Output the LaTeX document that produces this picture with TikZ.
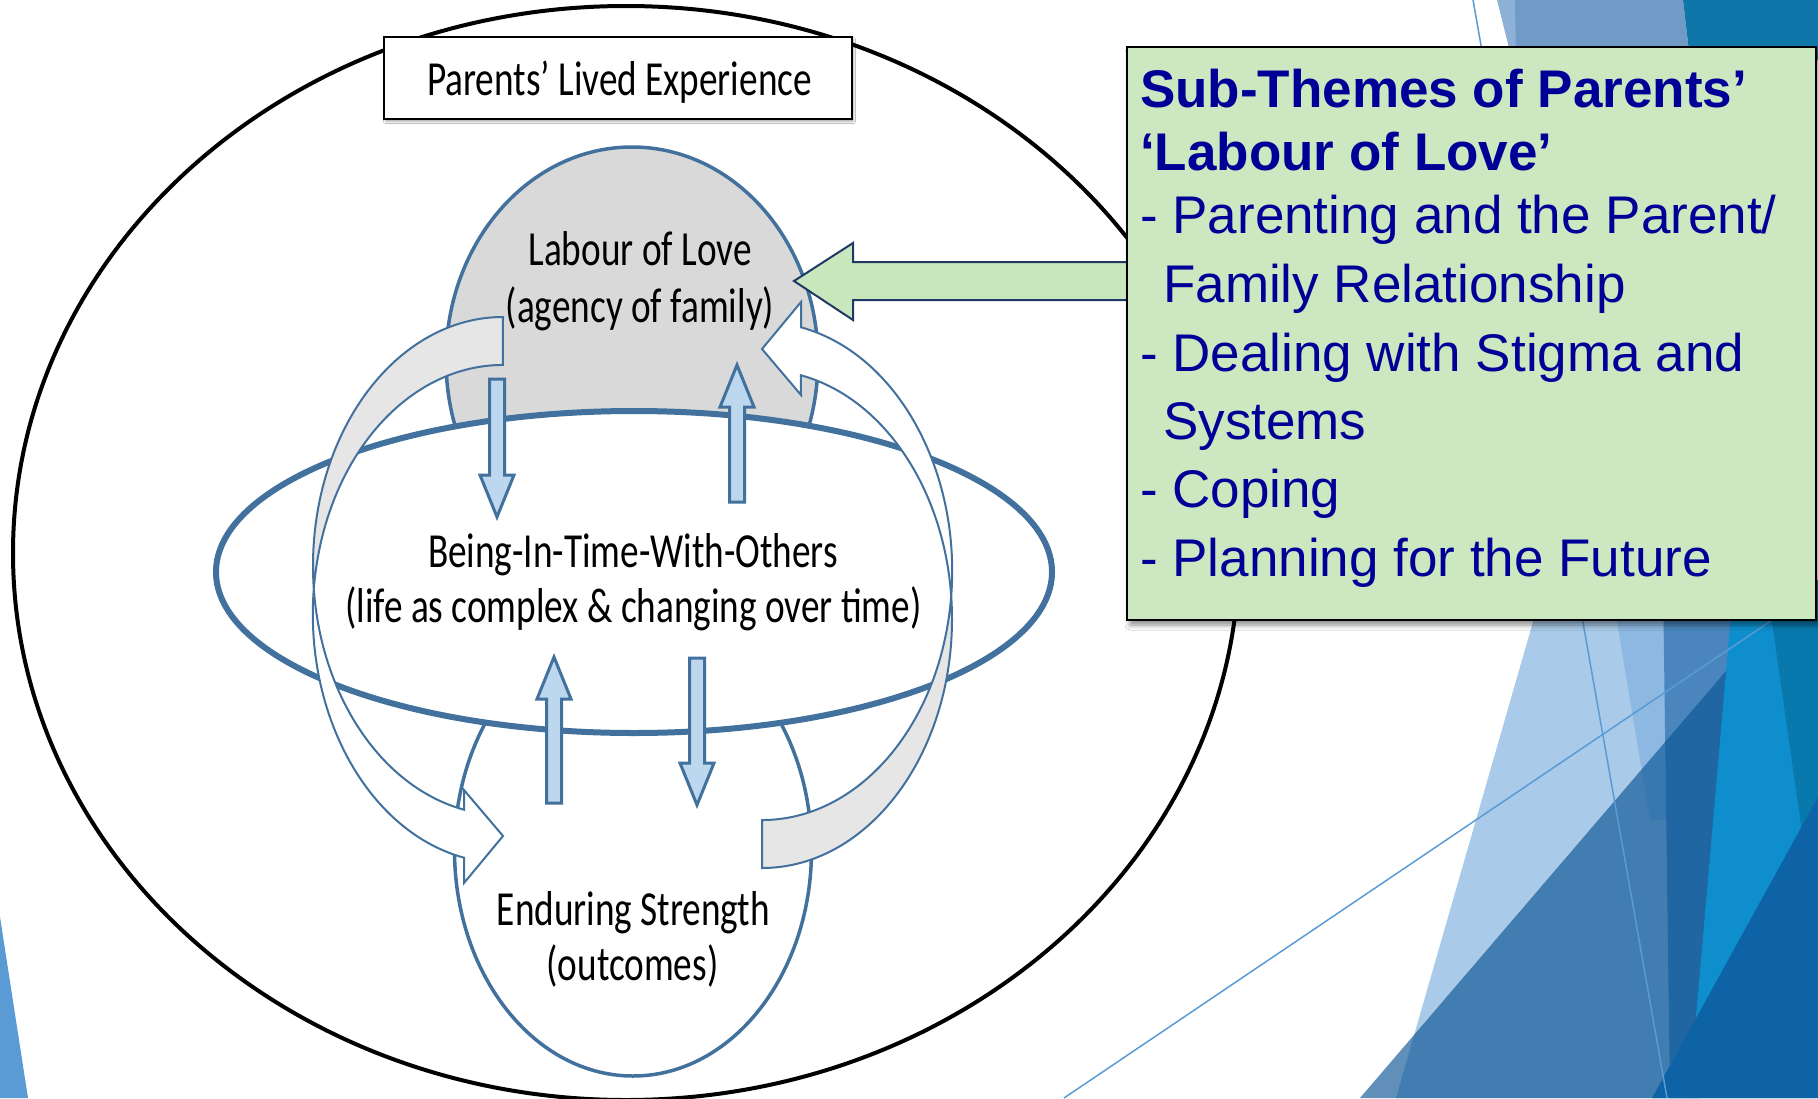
\documentclass[tikz,border=0pt]{standalone}
\usepackage{fontspec}
\setmainfont{Carlito}
\newfontfamily\arialfont{Liberation Sans}
\usepackage{graphicx}
\usetikzlibrary{shapes.geometric,shadows.blur}
\definecolor{ringblue}{HTML}{41719C}
\definecolor{lovegray}{HTML}{D9D9D9}
\definecolor{bandgray}{HTML}{E7E6E6}
\definecolor{arrowfill}{HTML}{BDD7EE}
\definecolor{greenfill}{HTML}{CCE8C1}
\definecolor{greenarrow}{HTML}{C9E7BD}
\definecolor{navytext}{HTML}{000096}
\definecolor{arrownavy}{HTML}{1F3864}
\definecolor{bgsliver}{HTML}{8EB1D8}
\definecolor{bgsteel}{HTML}{6F9BC6}
\definecolor{bgteal}{HTML}{0E76A8}
\definecolor{bglight}{HTML}{A9CAE8}
\definecolor{bglight2}{HTML}{8DB8E1}
\definecolor{bgmid}{HTML}{4A86BD}
\definecolor{bgtri}{RGB}{11,85,149}
\definecolor{bgcyan}{HTML}{0E8ECD}
\definecolor{bgteal2}{HTML}{0779AD}
\definecolor{bgdark}{HTML}{0D63A5}
\definecolor{bgline}{HTML}{5B9BD5}
\newcommand\narrowtext[1]{\scalebox{0.76}[1]{#1}}
\newcommand\cyclearrow{%
  \fill[white] (503,-317) arc[start angle=90,end angle=258.2,x radius=190,y radius=249]
    -- (464,-790) -- (503,-836) -- (464,-883) -- (464,-857.7)
    arc[start angle=258.2,end angle=90,x radius=190,y radius=249] -- cycle;
  \fill[bandgray] (503,-317) arc[start angle=90,end angle=185.5,x radius=190,y radius=249]
    arc[start angle=174.5,end angle=90,x radius=190,y radius=249] -- cycle;
  \draw[bandline] (503,-317) arc[start angle=90,end angle=258.2,x radius=190,y radius=249]
    -- (464,-790) -- (503,-836) -- (464,-883) -- (464,-857.7)
    arc[start angle=258.2,end angle=90,x radius=190,y radius=249] -- cycle;
}
\tikzset{
  diagtext/.style={font=\fontsize{49}{58}\selectfont, inner sep=0pt, anchor=base},
  themetext/.style={font=\arialfont\fontsize{53}{60}\selectfont, text=navytext, inner sep=0pt, anchor=base west},
  themehead/.style={themetext, font=\arialfont\bfseries\fontsize{53}{60}\selectfont},
  ringthin/.style={draw=ringblue, line width=3.5pt},
  ringthick/.style={draw=ringblue, line width=6pt},
  blockarrow/.style={draw=ringblue, fill=arrowfill, line width=3pt, line join=miter},
  bandline/.style={draw=ringblue, line width=2pt, line join=miter},
  bgstroke/.style={draw=bgline, line width=1.5pt},
}
\begin{document}
\begin{tikzpicture}[x=1pt,y=1pt]
\useasboundingbox (0,0) rectangle (1818,-1098);
\fill[white] (0,0) rectangle (1818,-1098);
% ---------- background facets ----------
\fill[bgsliver] (1497,0) -- (1517,0) -- (1517,-60) -- (1512,-60) -- cycle;
\fill[bgsteel] (1515,0) -- (1683,0) -- (1690,-60) -- (1516,-60) -- cycle;
\fill[bgteal] (1683,0) -- (1818,0) -- (1818,-60) -- (1690,-60) -- cycle;
\fill[bglight] (1545,-580) -- (1818,-580) -- (1818,-1098) -- (1396,-1098) -- cycle;
\fill[bglight2] (1610,-580) -- (1663,-580) -- (1700,-820) -- (1650,-820) -- cycle;
\fill[bgmid] (1663,-580) -- (1735,-580) -- (1690,-1098) -- (1670,-1098) -- cycle;
\fill[bgtri, opacity=0.65] (1804,-580) -- (1818,-580) -- (1818,-1098) -- (1360,-1098) -- cycle;
\fill[bgcyan] (1734,-580) -- (1766,-580) -- (1806,-860) -- (1700,-1098) -- (1689,-1098) -- cycle;
\fill[bgteal2] (1766,-580) -- (1818,-580) -- (1818,-860) -- (1806,-860) -- cycle;
\fill[bgdark] (1818,-797) -- (1818,-1098) -- (1652,-1098) -- cycle;
\fill[bgline] (0,-917) -- (28,-1098) -- (0,-1098) -- cycle;
\coordinate (la1) at (1473,0);
\coordinate (la2) at (1667,-1098);
\coordinate (lb1) at (1064,-1098);
\coordinate (lb2) at (1790,-608);
\draw[bgstroke] (la1) -- (la2);
\draw[bgstroke] (lb1) -- (lb2);
% ---------- outer ellipse and title ----------
\node[ellipse, draw=black, line width=4pt, minimum width=1226pt, minimum height=1094pt, inner sep=0pt] (lived) at (626,-553) {};
\node[draw=black, fill=white, line width=2pt, minimum width=468pt, minimum height=82pt, inner sep=0pt,
      blur shadow={shadow xshift=1.5pt, shadow yshift=-2.5pt, shadow blur radius=2pt, shadow opacity=35}] (title) at (618,-78) {};
\node[diagtext] (titletext) at (619.5,-95) {\narrowtext{Parents’ Lived Experience}};
% ---------- three ellipses ----------
\node[ellipse, ringthin, fill=lovegray, minimum width=372pt, minimum height=426pt, inner sep=0pt] (love) at (632,-360) {};
\node[ellipse, ringthin, fill=white, minimum width=357pt, minimum height=452pt, inner sep=0pt] (strength) at (633,-850) {};
\node[ellipse, ringthick, fill=white, minimum width=836pt, minimum height=322pt, inner sep=0pt] (being) at (634,-572) {};
% ---------- texts ----------
\node[diagtext] (love1) at (640,-265) {\narrowtext{Labour of Love}};
\node[diagtext] (love2) at (640,-322) {\narrowtext{(agency of family)}};
\node[diagtext] (being1) at (633,-567) {\narrowtext{Being-In-Time-With-Others}};
\node[diagtext] (being2) at (633.5,-622) {\narrowtext{(life as complex \& changing over time)}};
\node[diagtext] (end1) at (633.5,-925) {\narrowtext{Enduring Strength}};
\node[diagtext] (end2) at (632.5,-980) {\narrowtext{(outcomes)}};
% ---------- vertical block arrows ----------
\draw[blockarrow] (489.5,-379) -- (504.5,-379) -- (504.5,-475) -- (514,-475) -- (497,-517) -- (480,-475) -- (489.5,-475) -- cycle;
\draw[blockarrow] (729.5,-502) -- (744.5,-502) -- (744.5,-407) -- (754,-407) -- (737,-365) -- (720,-407) -- (729.5,-407) -- cycle;
\draw[blockarrow] (546.5,-803) -- (561.5,-803) -- (561.5,-699) -- (571,-699) -- (554,-657) -- (537,-699) -- (546.5,-699) -- cycle;
\draw[blockarrow] (689.5,-658) -- (704.5,-658) -- (704.5,-763) -- (714,-763) -- (697,-805) -- (680,-763) -- (689.5,-763) -- cycle;
% ---------- curved cycle arrows ----------
\cyclearrow
\begin{scope}[rotate around={180:(632.5,-592.5)}]
\cyclearrow
\end{scope}
% ---------- green arrow and box ----------
\draw[draw=arrownavy, fill=greenarrow, line width=2pt, line join=miter]
  (794,-281) -- (853,-243) -- (853,-262) -- (1132,-262) -- (1132,-300) -- (853,-300) -- (853,-320) -- cycle;
\node[draw=black, fill=greenfill, line width=2.5pt, minimum width=689pt, minimum height=573pt, inner sep=0pt,
      blur shadow={shadow xshift=3pt, shadow yshift=-5pt, shadow blur radius=5pt, shadow opacity=45}] (themes) at (1471.5,-333.5) {};
\node[themehead] (h1) at (1140,-107) {Sub-Themes of Parents’};
\node[themehead] (h2) at (1140,-170) {‘Labour of Love’};
\node[themetext] (t1) at (1140,-233) {- Parenting and the Parent/};
\node[themetext] (t2) at (1163,-302) {Family Relationship};
\node[themetext] (t3) at (1140,-371) {- Dealing with Stigma and};
\node[themetext] (t4) at (1163,-439) {Systems};
\node[themetext] (t5) at (1140,-507) {- Coping};
\node[themetext] (t6) at (1140,-576) {- Planning for the Future};
\end{tikzpicture}
\end{document}
